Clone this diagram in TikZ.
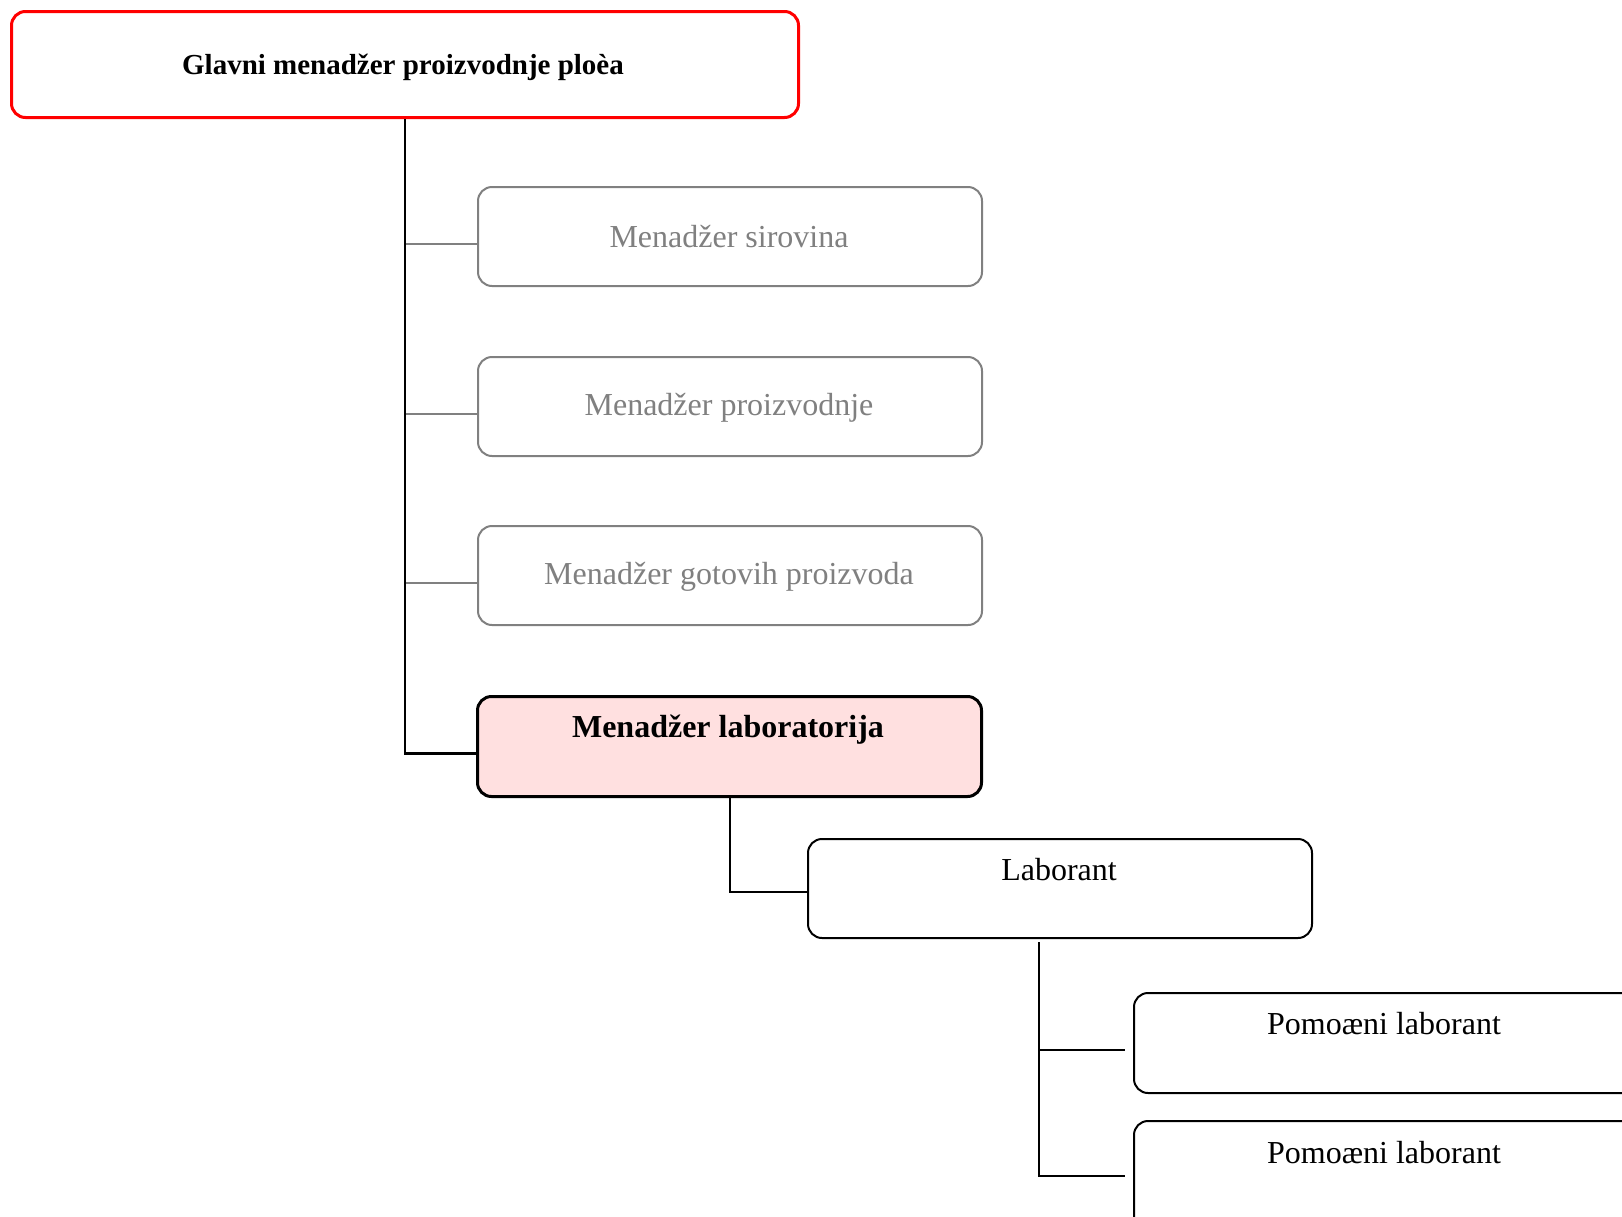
\documentclass[tikz,border=0pt]{standalone}
\usepackage{fontspec}
\setmainfont{Liberation Serif}
\begin{document}
\begin{tikzpicture}[x=1pt,y=-1pt,
  box/.style={draw,rounded corners=14pt,inner sep=0pt,anchor=north west},
  redbox/.style={box,draw={rgb,255:red,255;green,0;blue,0},line width=3pt},
  graybox/.style={box,draw={rgb,255:red,128;green,128;blue,128},line width=2pt},
  blackbox/.style={box,draw=black,line width=2pt},
  labbox/.style={box,draw=black,line width=3pt,fill={rgb,255:red,255;green,224;blue,224}},
  grayline/.style={draw={rgb,255:red,128;green,128;blue,128},line width=2pt},
  blackline/.style={draw=black,line width=2.8pt},
  thinline/.style={draw=black,line width=2pt},
  graytxt/.style={text={rgb,255:red,128;green,128;blue,128},font=\fontsize{32}{38}\selectfont},
  blacktxt/.style={font=\fontsize{32}{38}\selectfont},
  boldtxt/.style={font=\fontsize{29}{35}\selectfont\bfseries},
  bigboldtxt/.style={font=\fontsize{32}{38}\selectfont\bfseries},
]
\useasboundingbox (0,0) rectangle (1622,1216);
\clip (0,0) rectangle (1622,1216);
\fill[white] (0,0) rectangle (1622,1216);
% boxes
\node[redbox,minimum width=787pt,minimum height=106pt] (top) at (10,10) {};
\node[graybox,minimum width=504pt,minimum height=99pt] (g1) at (477,186) {};
\node[graybox,minimum width=504pt,minimum height=99pt] (g2) at (477,356) {};
\node[graybox,minimum width=504pt,minimum height=99pt] (g3) at (477,525) {};
\node[labbox,minimum width=504pt,minimum height=100pt] (lab) at (476,695) {};
\node[blackbox,minimum width=504pt,minimum height=99pt] (lb) at (807,838) {};
\node[blackbox,minimum width=560pt,minimum height=100pt] (p1) at (1133,992) {};
\node[blackbox,minimum width=560pt,minimum height=120pt] (p2) at (1133,1120) {};
% texts
\node[boldtxt] (ttop) at (403,67) {Glavni menadžer proizvodnje ploèa};
\node[graytxt] (tg1) at (729,237) {Menadžer sirovina};
\node[graytxt] (tg2) at (729,408) {Menadžer proizvodnje};
\node[graytxt] (tg3) at (729,577) {Menadžer gotovih proizvoda};
\node[bigboldtxt] (tlab) at (728,730) {Menadžer laboratorija};
\node[blacktxt] (tlb) at (1059,870) {Laborant};
\node[blacktxt] (tp1) at (1384,1024) {Pomoæni laborant};
\node[blacktxt] (tp2) at (1384,1153) {Pomoæni laborant};
% connectors
\coordinate (b1) at ([yshift=-7pt]g1.west);
\coordinate (b2) at ([yshift=-7pt]g2.west);
\coordinate (b3) at ([yshift=-7pt]g3.west);
\draw[grayline] (top.south |- b1) -- (b1);
\draw[grayline] (top.south |- b2) -- (b2);
\draw[grayline] (top.south |- b3) -- (b3);
\draw[blackline] (top.south) |- ([yshift=-7pt]lab.west);
\draw[thinline] (lab.south) |- ([yshift=-3pt]lb.west);
\coordinate (lt) at (1039,942);
\coordinate (e1) at ([xshift=-8pt,yshift=-7pt]p1.west);
\coordinate (e2) at (1125,1176);
\draw[thinline] (lt) |- (e2);
\draw[thinline] (lt |- e1) -- (e1);
\end{tikzpicture}
\end{document}
